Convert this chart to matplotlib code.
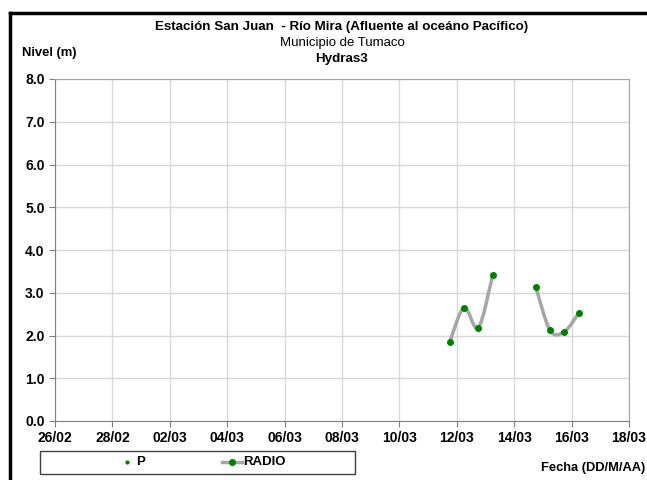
import numpy as np
import matplotlib
matplotlib.use("Agg")
import matplotlib.pyplot as plt
import matplotlib.dates as mdates
from matplotlib.path import Path
from matplotlib.patches import PathPatch, Rectangle
from matplotlib.lines import Line2D
from datetime import datetime

plt.rcParams['font.family'] = ['Liberation Sans Narrow', 'Liberation Sans', 'DejaVu Sans']

# data
seg1_dates = ["2023-03-11 18:00", "2023-03-12 06:00", "2023-03-12 18:00", "2023-03-13 06:00"]
seg1_level = [1.84, 2.65, 2.18, 3.41]
seg2_dates = ["2023-03-14 18:00", "2023-03-15 06:00", "2023-03-15 18:00", "2023-03-16 06:00"]
seg2_level = [3.14, 2.12, 2.09, 2.53]

x_start = datetime(2023, 2, 26)
x_end = datetime(2023, 3, 18)


def smooth_path(x, y, t=0.5):
    # Excel-like smoothed line: Catmull-Rom as cubic bezier
    verts = [(x[0], y[0])]
    codes = [Path.MOVETO]
    n = len(x)
    for i in range(n - 1):
        x0, y0 = (x[i - 1], y[i - 1]) if i > 0 else (x[i], y[i])
        x3, y3 = (x[i + 2], y[i + 2]) if i + 2 < n else (x[i + 1], y[i + 1])
        c1 = (x[i] + (x[i + 1] - x0) * t / 3, y[i] + (y[i + 1] - y0) * t / 3)
        c2 = (x[i + 1] - (x3 - x[i]) * t / 3, y[i + 1] - (y3 - y[i]) * t / 3)
        verts += [c1, c2, (x[i + 1], y[i + 1])]
        codes += [Path.CURVE4] * 3
    return Path(verts, codes)


fig = plt.figure(figsize=(6.47, 4.8), dpi=100)
ax = fig.add_axes([55 / 647, 1 - 421 / 480, 574 / 647, 342 / 480])

for d, v in [(seg1_dates, seg1_level), (seg2_dates, seg2_level)]:
    xs = mdates.date2num([datetime.strptime(s, "%Y-%m-%d %H:%M") for s in d])
    ax.add_patch(PathPatch(smooth_path(xs, v, t=0.5), fc='none', ec='#a6a6a6', lw=2.5, zorder=3))
    ax.plot(xs, v, ls='none', marker='o', ms=4, color='#008000', zorder=4)

ax.set_xlim(x_start, x_end)
ax.set_ylim(0, 8)
ax.set_yticks(np.arange(0, 8.1, 1))
ax.yaxis.set_major_formatter(matplotlib.ticker.FormatStrFormatter('%.1f'))
ax.xaxis.set_major_locator(mdates.DayLocator(interval=2))
ax.xaxis.set_major_formatter(mdates.DateFormatter('%d/%m'))
ax.set_xticks(mdates.date2num([x_start + (x_end - x_start) * k / 10 for k in range(11)]))
ax.grid(True, color='#d9d9d9', lw=1)
ax.set_axisbelow(True)
for s in ['top', 'right']:
    ax.spines[s].set_color('#a6a6a6')
for s in ['left', 'bottom']:
    ax.spines[s].set_color('#808080')
ax.tick_params(axis='both', direction='out', length=4, color='#808080', labelsize=10)
for lab in ax.get_xticklabels() + ax.get_yticklabels():
    lab.set_fontweight('bold')

cx = 0.5 * (55 + 629) / 647
fig.text(cx, 1 - 27 / 480, "Estación San Juan  - Río Mira (Afluente al oceáno Pacífico)",
         ha='center', va='center', fontsize=9.6, fontweight='bold')
fig.text(cx, 1 - 43 / 480, "Municipio de Tumaco", ha='center', va='center', fontsize=9.5)
fig.text(cx, 1 - 59 / 480, "Hydras3", ha='center', va='center', fontsize=9.6, fontweight='bold')
fig.text(22 / 647, 1 - 53 / 480, "Nivel (m)", ha='left', va='center', fontsize=9.4, fontweight='bold')
fig.text(645 / 647, 1 - 468 / 480, "Fecha (DD/M/AA)", ha='right', va='center', fontsize=9.3, fontweight='bold')

# chart border
fig.add_artist(Line2D([10 / 647, 10 / 647], [0, 1 - 13 / 480], color='black', lw=2.5))
fig.add_artist(Line2D([10 / 647, 1], [1 - 13 / 480, 1 - 13 / 480], color='black', lw=2.5))

# legend box
fig.add_artist(Rectangle((40 / 647, 1 - 474 / 480), 315 / 647, 23 / 480, fill=False, ec='#404040', lw=1))
ly = 1 - 462 / 480
fig.add_artist(Line2D([127 / 647], [ly], marker='o', ms=2, color='#008000', ls='none'))
fig.text(136 / 647, ly, "P", ha='left', va='center', fontsize=9.5, fontweight='bold')
fig.add_artist(Line2D([222 / 647, 242 / 647], [ly, ly], color='#a6a6a6', lw=2.5))
fig.add_artist(Line2D([232 / 647], [ly], marker='o', ms=4, color='#008000', ls='none'))
fig.text(243 / 647, ly, "RADIO", ha='left', va='center', fontsize=9.5, fontweight='bold')

fig.savefig("out.png", dpi=100)
